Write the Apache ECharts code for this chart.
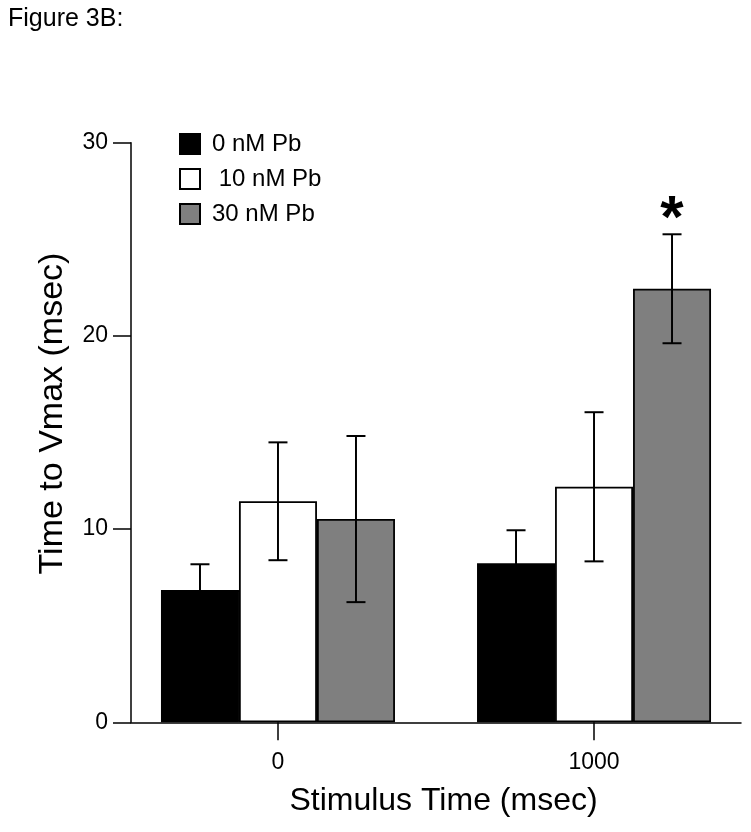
<!DOCTYPE html>
<html>
<head>
<meta charset="utf-8">
<script src="https://cdn.jsdelivr.net/npm/echarts@6/dist/echarts.min.js"></script>
<style>
html,body{margin:0;padding:0;background:#fff;}
#chart{width:751px;height:832px;}
</style>
</head>
<body>
<div id="chart"></div>
<script>
// ---- data ----
const categories = ['0', '1000'];            // stimulus time (msec)
const categoryPos = [0, 1];                  // positions of the categories on the x axis
const seriesNames = ['0 nM Pb', '10 nM Pb', '30 nM Pb'];
const means0nM  = [6.85, 8.23];
const means10nM = [11.44, 12.19];
const means30nM = [10.52, 22.44];
const sem0nM  = [1.33, 1.71];
const sem10nM = [3.05, 3.86];
const sem30nM = [4.30, 2.82];
const signif30nM = ['', '*'];
const yTicks = [0, 10, 20, 30];

const FONT = '"Liberation Sans", Arial, Helvetica, sans-serif';
const colors = ['#000000', '#ffffff', '#7f7f7f'];
const means = [means0nM, means10nM, means30nM];
const sems = [sem0nM, sem10nM, sem30nM];
const signif = [['', ''], ['', ''], signif30nM];
const BAR_W = 78;

const chart = echarts.init(document.getElementById('chart'), null, {renderer: 'canvas'});

const barSeries = seriesNames.map((name, i) => ({
  name: name,
  type: 'bar',
  barWidth: BAR_W,
  barGap: '0%',
  itemStyle: {color: colors[i], borderColor: '#000', borderWidth: 1.8},
  data: categoryPos.map((x, k) => [x, means[i][k]]),
  z: 2
}));

const errSeries = seriesNames.map((name, i) => ({
  name: name,
  type: 'custom',
  z: 5,
  silent: true,
  data: categoryPos.map((x, k) => [x, means[i][k], sems[i][k], signif[i][k]]),
  renderItem: function (params, api) {
    const x = api.value(0), m = api.value(1), e = api.value(2);
    const off = (i - 1) * BAR_W;
    const top = api.coord([x, m + e]);
    const bot = api.coord([x, m - e]);
    const cx = top[0] + off;
    const hw = 9.5;
    const st = {stroke: '#000', lineWidth: 2};
    const children = [
      {type: 'line', shape: {x1: cx, y1: top[1], x2: cx, y2: bot[1]}, style: st},
      {type: 'line', shape: {x1: cx - hw, y1: top[1], x2: cx + hw, y2: top[1]}, style: st},
      {type: 'line', shape: {x1: cx - hw, y1: bot[1], x2: cx + hw, y2: bot[1]}, style: st}
    ];
    const s = signif[i][params.dataIndex];
    if (s) {
      children.push({type: 'text', x: cx, y: top[1] - 14,
        style: {text: s, fill: '#000', font: 'bold 60px ' + FONT, align: 'center', verticalAlign: 'middle'}});
    }
    return {type: 'group', children: children};
  }
}));

chart.setOption({
  backgroundColor: '#fff',
  animation: false,
  title: {
    text: 'Figure 3B:', left: 8, top: 7, padding: 0,
    textStyle: {fontFamily: FONT, fontSize: 25, fontWeight: 'normal', color: '#000'}
  },
  legend: {
    data: seriesNames,
    orient: 'vertical',
    left: 179, top: 132, padding: 0,
    icon: 'rect',
    itemWidth: 20, itemHeight: 20, itemGap: 11,
    formatter: n => (n === '10 nM Pb' ? ' ' + n : n),
    textStyle: {fontFamily: FONT, fontSize: 24, color: '#000', padding: [0, 0, 0, 7]}
  },
  grid: {left: 131, right: 10, top: 142.7, bottom: 109.7, containLabel: false},
  xAxis: {
    type: 'value',
    min: -0.465, max: 1.465,
    splitLine: {show: false},
    axisLine: {onZero: false, lineStyle: {color: '#000', width: 1.5}},
    axisTick: {customValues: categoryPos, length: 18, lineStyle: {color: '#000', width: 1.5}},
    axisLabel: {
      customValues: categoryPos,
      formatter: v => categories[categoryPos.indexOf(Math.round(v))] || '',
      margin: 29, fontFamily: FONT, fontSize: 23, color: '#000'
    },
    name: 'Stimulus Time (msec)',
    nameLocation: 'middle', nameGap: 63,
    nameTextStyle: {fontFamily: FONT, fontSize: 32, color: '#000', padding: [0, 0, 0, 15]}
  },
  yAxis: {
    type: 'value', min: 0, max: 30, interval: 10,
    splitLine: {show: false},
    axisLine: {show: true, onZero: false, lineStyle: {color: '#000', width: 1.5}},
    axisTick: {show: true, length: 18, lineStyle: {color: '#000', width: 1.5}},
    axisLabel: {
      customValues: yTicks,
      margin: 23, fontFamily: FONT, fontSize: 23, color: '#000'
    },
    name: 'Time to Vmax (msec)',
    nameLocation: 'middle', nameGap: 61,
    nameTextStyle: {fontFamily: FONT, fontSize: 34, color: '#000', padding: [0, 0, 0, 38]}
  },
  series: barSeries.concat(errSeries)
});
</script>
</body>
</html>
